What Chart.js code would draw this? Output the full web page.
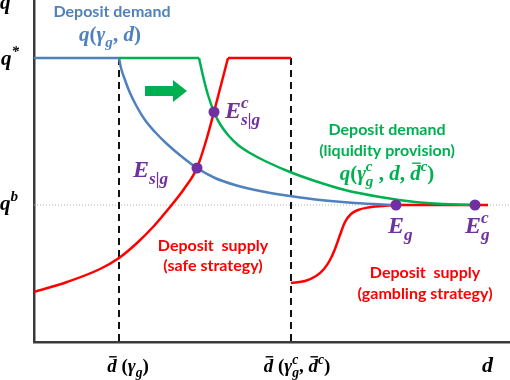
<!DOCTYPE html>
<html>
<head>
<meta charset="utf-8">
<script src="https://cdn.jsdelivr.net/npm/chart.js@4"></script>
<style>
  html, body { margin: 0; padding: 0; background: #fff; }
  #wrap { width: 510px; height: 380px; }
</style>
</head>
<body>
<div id="wrap"><canvas id="chart"></canvas></div>
<script>
// levels on the axes
const qStar = 284;
const qB = 137;
const dBar1 = 85;
const dBar2 = 257;
const dMax = 476;
const qMax = 342;

// deposit demand q(gamma_g, d)
const blueD = [85, 87, 91, 96, 103, 111, 121, 133, 147, 163, 181, 201, 226, 256, 286, 321, 362];
const blueQ = [284, 274, 262, 249, 235, 222, 210, 198, 186, 174, 164, 157, 151, 146, 142, 139, 137];

// deposit demand with liquidity provision
const greenD = [165, 169, 174, 180, 186, 194, 204, 216, 231, 256, 281, 311, 346, 381, 411, 441];
const greenQ = [284, 266, 247, 230, 218, 207, 197, 189, 181, 170, 161, 152, 145, 140, 138, 137];

// deposit supply, safe strategy
const redSafeD = [0, 33, 66, 85, 103, 119, 136, 150, 163, 172, 180, 187, 194];
const redSafeQ = [50, 60, 73, 84, 99, 115, 135, 153, 174, 201, 230, 257, 284];

// deposit supply, gambling strategy
const redGambleD = [257, 271, 282, 290, 296, 301, 306, 311, 317, 324, 334, 348, 363, 454];
const redGambleQ = [59, 61, 66, 73, 82, 93, 107, 120, 128, 132, 134.5, 136, 137, 137];

// equilibria E_s|g, E^c_s|g, E_g, E^c_g
const eqD = [163, 180, 362, 441];
const eqQ = [174, 230, 137, 137];

const blue = "#4F81BD";
const green = "#00B050";
const red = "#FF0000";
const purple = "#7030A0";

function pts(xs, ys) {
  return xs.map((x, i) => ({ x: x, y: ys[i] }));
}

// plain text labels
const textLabels = [
  { text: "Deposit demand", x: 78, y: 325, color: blue },
  { text: "Deposit demand", x: 353, y: 207, color: green },
  { text: "(liquidity provision)", x: 353, y: 186, color: green },
  { text: "Deposit  supply", x: 179, y: 91, color: red },
  { text: "(safe strategy)", x: 179, y: 71, color: red },
  { text: "Deposit  supply", x: 391, y: 64, color: red },
  { text: "(gambling strategy)", x: 391, y: 43, color: red },
];

// math labels: i italic, r roman, b sub, p sup, P sup without advance, o overbar
const mathLabels = [
  { parts: [["q", "i"], ["(", "r"], ["γ", "i"], ["g", "b"], [", ", "r"], ["d", "i"], [")", "r"]], x: 76, y: 301, size: 21, color: blue, align: "center" },
  { parts: [["q", "i"], ["(", "r"], ["γ", "i"], ["c", "P"], ["g", "b"], [" , ", "r"], ["d", "i"], [", ", "r"], ["d", "o"], ["c", "p"], [")", "r"]], x: 353, y: 162, size: 21, color: green, align: "center" },
  { parts: [["E", "i"], ["c", "P"], ["s|g", "b"]], x: 191, y: 224, size: 24, color: purple, align: "left" },
  { parts: [["E", "i"], ["s|g", "b"]], x: 99, y: 165, size: 24, color: purple, align: "left" },
  { parts: [["E", "i"], ["g", "b"]], x: 354, y: 109, size: 24, color: purple, align: "left" },
  { parts: [["E", "i"], ["c", "P"], ["g", "b"]], x: 431, y: 109, size: 24, color: purple, align: "left" },
  { parts: [["d", "o"], [" (", "r"], ["γ", "i"], ["g", "b"], [")", "r"]], x: 94, y: -30, size: 19, color: "#000", align: "center" },
  { parts: [["d", "o"], [" (", "r"], ["γ", "i"], ["c", "P"], ["g", "b"], [", ", "r"], ["d", "o"], ["c", "p"], [")", "r"]], x: 263, y: -30, size: 19, color: "#000", align: "center" },
  { parts: [["d", "i"]], x: 448, y: -30, size: 22, color: "#000", align: "left" },
  { parts: [["q", "i"]], x: -34, y: 333, size: 21, color: "#000", align: "left" },
  { parts: [["q", "i"], ["*", "p"]], x: -33, y: 277, size: 21, color: "#000", align: "left" },
  { parts: [["q", "i"], ["b", "p"]], x: -34, y: 132, size: 21, color: "#000", align: "left" },
];

// green shift arrow (tail, head)
const arrowD = [111, 153];
const arrowQ = 251;

function drawMath(ctx, parts, x, y, size, color, align) {
  const small = size * 0.72;
  const fontOf = (k) => {
    const s = k === "b" || k === "p" || k === "P" ? small : size;
    return (k === "r" ? "bold " : "bold italic ") + s + 'px "Liberation Serif"';
  };
  let total = 0;
  const widths = parts.map(([t, k]) => {
    ctx.font = fontOf(k);
    const w = ctx.measureText(t).width;
    if (k !== "P") total += w;
    return w;
  });
  let cx = align === "center" ? x - total / 2 : x;
  ctx.fillStyle = color;
  ctx.strokeStyle = color;
  ctx.textAlign = "left";
  ctx.textBaseline = "alphabetic";
  parts.forEach(([t, k], i) => {
    ctx.font = fontOf(k);
    let dy = 0;
    if (k === "b") dy = size * 0.28;
    if (k === "p" || k === "P") dy = -size * 0.42;
    ctx.fillText(t, cx, y + dy);
    if (k === "o") {
      ctx.lineWidth = 1.4;
      ctx.beginPath();
      ctx.moveTo(cx + 2, y - size * 0.8);
      ctx.lineTo(cx + widths[i], y - size * 0.8);
      ctx.stroke();
    }
    if (k !== "P") cx += widths[i];
  });
}

const labelPlugin = {
  id: "labels",
  afterDatasetsDraw(chart) {
    const ctx = chart.ctx;
    const px = (v) => chart.scales.x.getPixelForValue(v);
    const py = (v) => chart.scales.y.getPixelForValue(v);
    ctx.save();

    // arrow
    const x0 = px(arrowD[0]), x1 = px(arrowD[1]), y0 = py(arrowQ);
    ctx.fillStyle = green;
    ctx.beginPath();
    ctx.moveTo(x0, y0 - 5);
    ctx.lineTo(x1 - 14, y0 - 5);
    ctx.lineTo(x1 - 14, y0 - 11);
    ctx.lineTo(x1, y0);
    ctx.lineTo(x1 - 14, y0 + 11);
    ctx.lineTo(x1 - 14, y0 + 5);
    ctx.lineTo(x0, y0 + 5);
    ctx.closePath();
    ctx.fill();

    ctx.font = "bold 16px Lato";
    ctx.textAlign = "center";
    ctx.textBaseline = "alphabetic";
    textLabels.forEach((l) => {
      ctx.fillStyle = l.color;
      ctx.fillText(l.text, px(l.x), py(l.y));
    });

    mathLabels.forEach((l) => {
      drawMath(ctx, l.parts, px(l.x), py(l.y), l.size, l.color, l.align);
    });
    ctx.restore();
  },
};

const ctx = document.getElementById("chart").getContext("2d");

const curve = (data, color) => ({
  data: data,
  borderColor: color,
  borderWidth: 2.5,
  pointRadius: 0,
  cubicInterpolationMode: "monotone",
  fill: false,
});

const straight = (data, color, width, dash) => ({
  data: data,
  borderColor: color,
  borderWidth: width,
  borderDash: dash,
  pointRadius: 0,
  tension: 0,
  fill: false,
});

new Chart(ctx, {
  type: "line",
  data: {
    datasets: [
      {
        data: pts(eqD, eqQ),
        showLine: false,
        pointRadius: 5.5,
        pointBackgroundColor: purple,
        pointBorderWidth: 0,
        pointBorderColor: purple,
      },
      curve(pts(greenD, greenQ), green),
      straight([{ x: dBar1, y: qStar }, { x: greenD[0], y: qStar }], green, 2.5, []),
      curve(pts(blueD, blueQ), blue),
      straight([{ x: 0, y: qStar }, { x: dBar1, y: qStar }], blue, 2.5, []),
      curve(pts(redSafeD, redSafeQ), red),
      straight([{ x: redSafeD[redSafeD.length - 1], y: qStar }, { x: dBar2, y: qStar }], red, 2.5, []),
      curve(pts(redGambleD, redGambleQ), red),
      straight([{ x: dBar1, y: qStar }, { x: dBar1, y: 0 }], "#111", 2, [7, 5]),
      straight([{ x: dBar2, y: qStar }, { x: dBar2, y: 0 }], "#111", 2, [7, 5]),
      straight([{ x: 0, y: qB }, { x: dMax, y: qB }], "#b0b0b0", 1, [1, 2]),
    ],
  },
  options: {
    responsive: true,
    maintainAspectRatio: false,
    animation: false,
    layout: { autoPadding: false, padding: { left: 34, right: 0, top: 0, bottom: 38 } },
    plugins: {
      legend: { display: false },
      tooltip: { enabled: false },
    },
    scales: {
      x: {
        type: "linear",
        min: 0,
        max: dMax,
        ticks: { display: false },
        grid: { display: false, drawTicks: false },
        border: { display: true, color: "#3a3a3a", width: 2.5 },
      },
      y: {
        type: "linear",
        min: 0,
        max: qMax,
        ticks: { display: false },
        grid: { display: false, drawTicks: false },
        border: { display: true, color: "#3a3a3a", width: 2.5 },
      },
    },
  },
  plugins: [labelPlugin],
});
</script>
</body>
</html>
